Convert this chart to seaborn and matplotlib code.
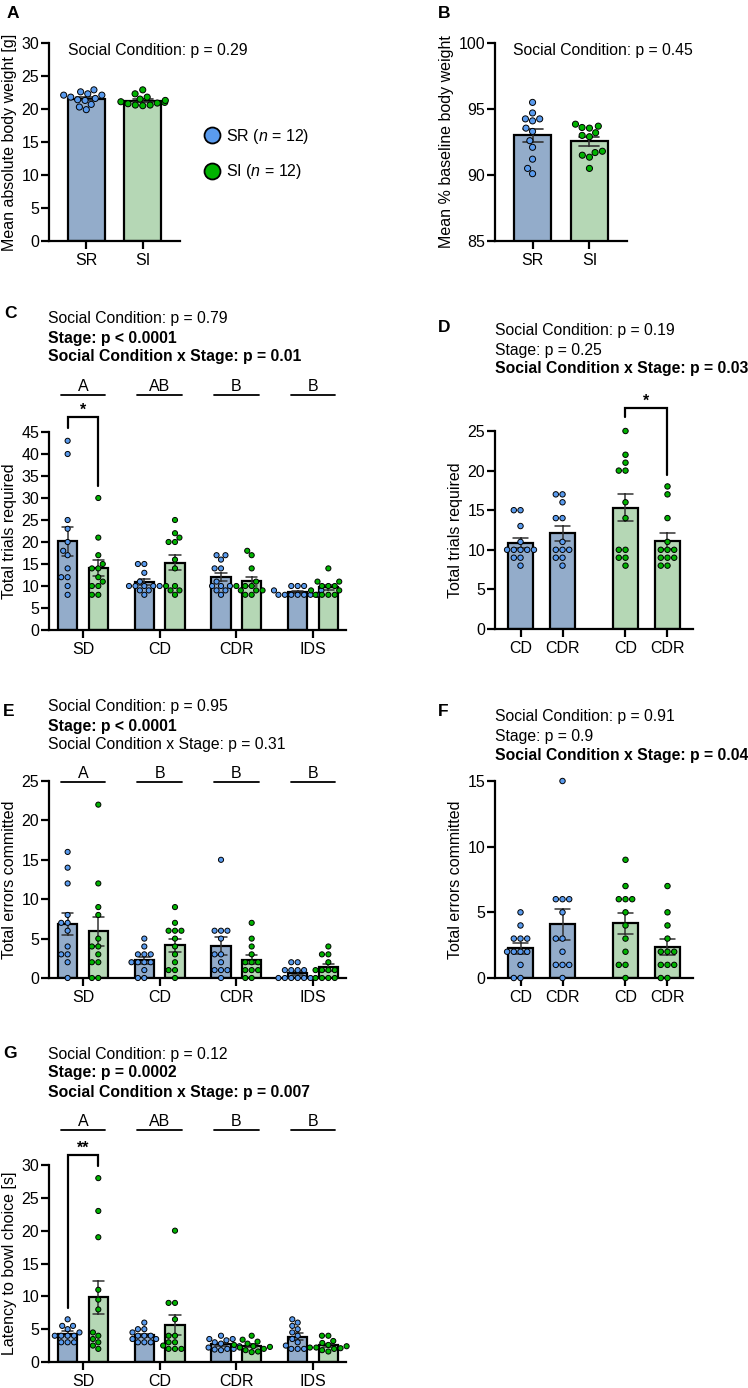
import numpy as np
import pandas as pd
import seaborn as sns
import matplotlib.pyplot as plt
import matplotlib.transforms as mtransforms
from matplotlib.lines import Line2D

# =================== Data ===================

groups = ["SR", "SI"]
stages = ["SD", "CD", "CDR", "IDS"]
shift_stages = ["CD", "CDR"]

# A: mean absolute body weight [g]
abs_weight_sr = [22.9, 22.3, 22.1, 21.6, 21.3, 20.7, 20.3, 19.9, 21.8, 22.1, 22.6, 21.4]
abs_weight_si = [21.5, 22.3, 22.9, 21.1, 20.9, 20.6, 20.5, 20.6, 20.8, 21.0, 21.8, 21.3]

# B: mean % baseline body weight
pct_weight_sr = [95.5, 94.7, 94.25, 94.1, 94.25, 93.55, 93.3, 92.6, 92.1, 91.2, 90.5, 90.1]
pct_weight_si = [93.85, 93.2, 93.6, 93.7, 93.55, 92.9, 93.0, 91.7, 91.8, 91.35, 91.5, 90.5]

# C / D: total trials required
trials_sr = {
    "SD": [43, 40, 25, 23, 20, 17, 18, 14, 12, 12, 10, 8],
    "CD": [15, 15, 13, 11, 10, 10, 10, 10, 10, 9, 9, 8],
    "CDR": [17, 17, 16, 14, 14, 11, 10, 10, 10, 9, 9, 8],
    "IDS": [10, 10, 10, 9, 9, 8, 8, 8, 8, 8, 8, 8],
}
trials_si = {
    "SD": [30, 21, 17, 15, 14, 14, 12, 11, 10, 10, 8, 8],
    "CD": [25, 22, 21, 20, 20, 16, 14, 10, 10, 9, 9, 8],
    "CDR": [18, 17, 14, 11, 10, 10, 10, 9, 9, 9, 8, 8],
    "IDS": [14, 11, 11, 10, 10, 10, 9, 9, 8, 8, 8, 8],
}

# E / F: total errors committed
errors_sr = {
    "SD": [16, 14, 12, 8, 7, 7, 6, 4, 3, 3, 2, 0],
    "CD": [5, 4, 3, 3, 3, 2, 2, 2, 2, 1, 0, 0],
    "CDR": [15, 6, 6, 6, 5, 3, 3, 2, 1, 1, 1, 0],
    "IDS": [2, 2, 1, 1, 1, 1, 0, 0, 0, 0, 0, 0],
}
errors_si = {
    "SD": [22, 12, 9, 8, 5, 4, 4, 3, 2, 2, 0, 0],
    "CD": [9, 7, 6, 6, 6, 5, 4, 3, 2, 1, 1, 0],
    "CDR": [7, 5, 4, 3, 2, 2, 2, 1, 1, 1, 0, 0],
    "IDS": [4, 3, 3, 2, 1, 1, 1, 1, 0, 0, 0, 0],
}

# G: latency to bowl choice [s]
latency_sr = {
    "SD": [6.5, 5.5, 5.5, 5.0, 4.5, 4.0, 4.0, 4.0, 4.0, 3.0, 3.0, 3.0],
    "CD": [6.0, 5.0, 5.0, 4.5, 4.0, 4.0, 4.0, 3.5, 3.5, 3.0, 3.0, 3.0],
    "CDR": [4.0, 3.5, 3.5, 3.3, 3.0, 2.8, 2.4, 2.2, 2.0, 1.9, 2.0, 1.8],
    "IDS": [6.5, 6.0, 5.5, 5.0, 4.5, 4.0, 3.5, 3.0, 2.5, 2.0, 2.0, 2.0],
}
latency_si = {
    "SD": [28, 23, 19, 11, 9.5, 8, 4.5, 4, 3.5, 3, 2.5, 2],
    "CD": [20, 9, 9, 6.5, 4, 4, 3, 3, 2.5, 2, 2, 2],
    "CDR": [4.0, 3.4, 3.1, 2.8, 2.6, 2.4, 2.2, 1.6, 1.8, 2.0, 1.5, 2.3],
    "IDS": [4.0, 4.0, 3.2, 2.9, 2.6, 2.4, 2.2, 2.0, 1.8, 2.1, 1.6, 2.2],
}

# post-hoc stage letters
trials_letters = ["A", "AB", "B", "B"]
errors_letters = ["A", "B", "B", "B"]
latency_letters = ["A", "AB", "B", "B"]

# =================== Style ===================

bar_colors = {"SR": "#8AABD3", "SI": "#AFDDAF"}
point_colors = {"SR": "#5A9BEE", "SI": "#00B300"}
err_color = "#333333"

sns.set_style("ticks")
plt.rcParams["font.family"] = ["Liberation Sans", "DejaVu Sans"]
plt.rcParams["mathtext.fontset"] = "custom"
plt.rcParams["mathtext.rm"] = "Liberation Sans"
plt.rcParams["mathtext.it"] = "Liberation Sans:italic"
plt.rcParams["axes.edgecolor"] = "black"
plt.rcParams["axes.labelcolor"] = "black"
plt.rcParams["text.color"] = "black"
plt.rcParams["xtick.color"] = "black"
plt.rcParams["ytick.color"] = "black"

W, H = 748, 1388
FS = 11.5
TFS = 11.3


def long_df(sr, si):
    rows = []
    for g, d in (("SR", sr), ("SI", si)):
        for st, vals in d.items():
            for v in vals:
                rows.append({"group": g, "stage": st, "value": v})
    return pd.DataFrame(rows)


def add_axes_px(fig, left, top, right, bottom):
    return fig.add_axes([left / W, 1 - bottom / H, (right - left) / W, (bottom - top) / H])


def fig_text(fig, x, y, s, **kw):
    fig.text(x / W, 1 - y / H, s, va="center", ha="left", **kw)


def unclip_points(ax):
    # let points sitting on the axis limits show in full (skip empty collections)
    for coll in ax.collections:
        if len(coll.get_offsets()) > 0:
            coll.set_clip_on(False)


def style_axis(ax, ylim, yticks, ylabel):
    ax.set_ylim(*ylim)
    ax.set_yticks(yticks)
    ax.set_ylabel(ylabel, fontsize=FS, labelpad=3)
    ax.set_xlabel("")
    sns.despine(ax=ax)
    for s in ("left", "bottom"):
        ax.spines[s].set_linewidth(1.6)
    ax.tick_params(axis="both", length=5.5, width=1.6, labelsize=FS)
    ax.tick_params(axis="y", pad=1.5)
    ax.tick_params(axis="x", pad=3)
    unclip_points(ax)


def two_bar_panel(ax, df, ylim, yticks, ylabel):
    sns.barplot(data=df, x="group", y="value", hue="group", order=groups, hue_order=groups,
                palette=bar_colors, width=0.66, errorbar="se", capsize=0.35,
                err_kws={"color": err_color, "linewidth": 1.2},
                edgecolor="black", linewidth=1.6, legend=False, ax=ax)
    sns.swarmplot(data=df, x="group", y="value", hue="group", order=groups, hue_order=groups,
                  palette=point_colors, size=4.4, edgecolor="black", linewidth=0.7,
                  legend=False, ax=ax)
    ax.set_xlim(-0.66, 1.66)
    style_axis(ax, ylim, yticks, ylabel)


def stage_panel(ax, df, ylim, yticks, ylabel):
    sns.barplot(data=df, x="stage", y="value", hue="group", order=stages, hue_order=groups,
                palette=bar_colors, width=0.8, gap=0.38, errorbar="se", capsize=0.3,
                err_kws={"color": err_color, "linewidth": 1.1},
                edgecolor="black", linewidth=1.6, legend=False, ax=ax)
    sns.swarmplot(data=df, x="stage", y="value", hue="group", order=stages, hue_order=groups,
                  dodge=True, palette=point_colors, size=3.7, edgecolor="black", linewidth=0.7,
                  legend=False, warn_thresh=1, ax=ax)
    ax.set_xlim(-0.443, 3.43)
    style_axis(ax, ylim, yticks, ylabel)


def shift_panel(ax, df, ylim, yticks, ylabel):
    df = df[df["stage"].isin(shift_stages)]
    for g in groups:
        sub = df[df["group"] == g]
        sns.barplot(data=sub, x="group", y="value", hue="stage", order=groups,
                    hue_order=shift_stages, palette=[bar_colors[g]] * 2, width=0.8, gap=0.4,
                    errorbar="se", capsize=0.3, err_kws={"color": err_color, "linewidth": 1.1},
                    edgecolor="black", linewidth=1.6, legend=False, ax=ax)
        sns.swarmplot(data=sub, x="group", y="value", hue="stage", order=groups,
                      hue_order=shift_stages, dodge=True, palette=[point_colors[g]] * 2,
                      size=3.9, edgecolor="black", linewidth=0.7, legend=False,
                      warn_thresh=1, ax=ax)
    ax.set_xlim(-0.443, 1.443)
    style_axis(ax, ylim, yticks, ylabel)
    ax.set_xticks([i + o for i in range(len(groups)) for o in (-0.2, 0.2)])
    ax.set_xticklabels(shift_stages * len(groups))


def stage_letters(ax, letters, y_text, y_line):
    trans = mtransforms.blended_transform_factory(ax.transData, ax.transAxes)
    for i, lab in enumerate(letters):
        ax.text(i, y_text, lab, transform=trans, ha="center", va="center",
                fontsize=FS, clip_on=False)
        ax.plot([i - 0.29, i + 0.29], [y_line, y_line], transform=trans, color="black",
                lw=1.3, clip_on=False)


def bracket(ax, x0, x1, top, left_bottom, right_bottom, stars):
    ax.plot([x0, x0, x1, x1], [left_bottom, top, top, right_bottom], color="black",
            lw=1.6, clip_on=False, solid_joinstyle="miter")
    ax.annotate(stars, xy=((x0 + x1) / 2, top), xytext=(0, 1.5), textcoords="offset points",
                ha="center", va="baseline", fontsize=FS, fontweight="bold",
                annotation_clip=False)


# =================== Figure ===================

fig = plt.figure(figsize=(W / 100, H / 100), dpi=100)

# A
weights_abs = pd.DataFrame({"group": ["SR"] * len(abs_weight_sr) + ["SI"] * len(abs_weight_si),
                            "value": abs_weight_sr + abs_weight_si})
ax_a = add_axes_px(fig, 49, 43, 180, 241)
two_bar_panel(ax_a, weights_abs, (0, 30), range(0, 31, 5), "Mean absolute body weight [g]")

# B
weights_pct = pd.DataFrame({"group": ["SR"] * len(pct_weight_sr) + ["SI"] * len(pct_weight_si),
                            "value": pct_weight_sr + pct_weight_si})
ax_b = add_axes_px(fig, 495, 43, 627, 241)
two_bar_panel(ax_b, weights_pct, (85, 100), range(85, 101, 5), "Mean % baseline body weight")

trials = long_df(trials_sr, trials_si)
errors = long_df(errors_sr, errors_si)
latency = long_df(latency_sr, latency_si)

# C
ax_c = add_axes_px(fig, 49, 432, 346, 630)
stage_panel(ax_c, trials, (0, 45), range(0, 46, 5), "Total trials required")
stage_letters(ax_c, trials_letters, 1.232, 1.187)
bracket(ax_c, -0.2, 0.2, 48.4, 45.9, 32.7, "*")

# D
ax_d = add_axes_px(fig, 495, 431, 693, 629)
shift_panel(ax_d, trials, (0, 25), range(0, 26, 5), "Total trials required")
bracket(ax_d, 0.8, 1.2, 27.9, 26.8, 19.4, "*")

# E
ax_e = add_axes_px(fig, 49, 781, 346, 978)
stage_panel(ax_e, errors, (0, 25), range(0, 26, 5), "Total errors committed")
stage_letters(ax_e, errors_letters, 1.04, 0.995)

# F
ax_f = add_axes_px(fig, 495, 781, 693, 978)
shift_panel(ax_f, errors, (0, 15), range(0, 16, 5), "Total errors committed")

# G
ax_g = add_axes_px(fig, 49, 1165, 346, 1362)
stage_panel(ax_g, latency, (0, 30), range(0, 31, 5), "Latency to bowl choice [s]")
stage_letters(ax_g, latency_letters, 1.223, 1.178)
bracket(ax_g, -0.2, 0.2, 31.5, 8.2, 29.8, "**")

# statistics text
bold = {"fontweight": "bold"}
fig_text(fig, 68, 51, "Social Condition: p = 0.29", fontsize=TFS)
fig_text(fig, 513, 51, "Social Condition: p = 0.45", fontsize=TFS)
fig_text(fig, 48, 319, "Social Condition: p = 0.79", fontsize=TFS)
fig_text(fig, 48, 338, "Stage: p < 0.0001", fontsize=TFS, **bold)
fig_text(fig, 48, 357, "Social Condition x Stage: p = 0.01", fontsize=TFS, **bold)
fig_text(fig, 495, 331, "Social Condition: p = 0.19", fontsize=TFS)
fig_text(fig, 495, 350, "Stage: p = 0.25", fontsize=TFS)
fig_text(fig, 495, 369, "Social Condition x Stage: p = 0.03", fontsize=TFS, **bold)
fig_text(fig, 48, 707, "Social Condition: p = 0.95", fontsize=TFS)
fig_text(fig, 48, 726, "Stage: p < 0.0001", fontsize=TFS, **bold)
fig_text(fig, 48, 745, "Social Condition x Stage: p = 0.31", fontsize=TFS)
fig_text(fig, 495, 717, "Social Condition: p = 0.91", fontsize=TFS)
fig_text(fig, 495, 736, "Stage: p = 0.9", fontsize=TFS)
fig_text(fig, 495, 755, "Social Condition x Stage: p = 0.04", fontsize=TFS, **bold)
fig_text(fig, 48, 1054, "Social Condition: p = 0.12", fontsize=TFS)
fig_text(fig, 48, 1073, "Stage: p = 0.0002", fontsize=TFS, **bold)
fig_text(fig, 48, 1092, "Social Condition x Stage: p = 0.007", fontsize=TFS, **bold)

# panel letters
for lab, x, y in [("A", 7, 14), ("B", 438, 14), ("C", 4, 313), ("D", 438, 327),
                  ("E", 3, 712), ("F", 438, 712), ("G", 3, 1053)]:
    fig_text(fig, x, y, lab, fontsize=12.5, fontweight="bold")

# legend
handles = [Line2D([], [], marker="o", ls="", markersize=11.5, markerfacecolor=point_colors[g],
                  markeredgecolor="black", markeredgewidth=1.3) for g in groups]
labels = [r"SR ($\mathit{n}$ = 12)", r"SI ($\mathit{n}$ = 12)"]
fig.legend(handles, labels, loc="center left", bbox_to_anchor=(204 / W, 1 - 154 / H),
           frameon=False, fontsize=FS, handlelength=1.0, handletextpad=0.35,
           labelspacing=1.05, borderpad=0, borderaxespad=0)

fig.savefig("out.png", dpi=100)
